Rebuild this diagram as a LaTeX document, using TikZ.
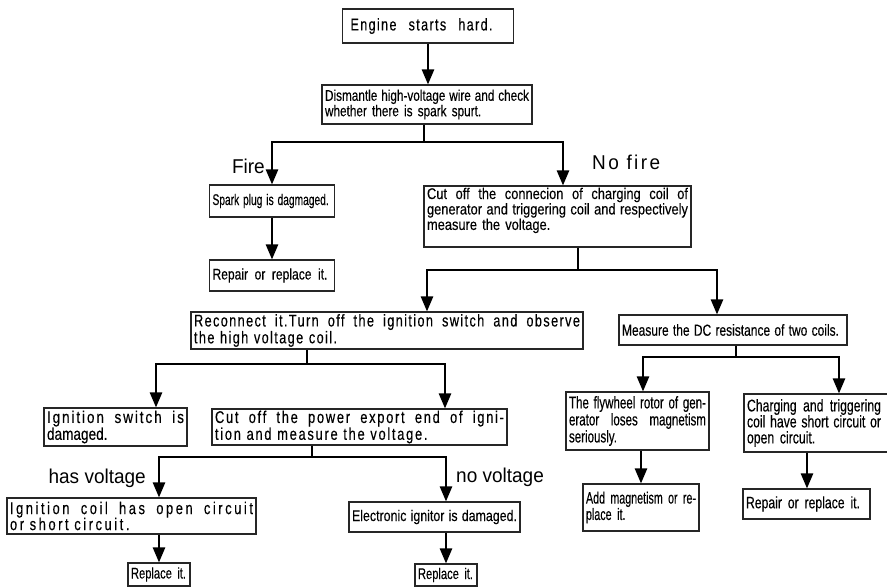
\documentclass[tikz,border=0pt]{standalone}
\usepackage{fontspec}
\setmainfont{Liberation Sans}
\usetikzlibrary{arrows.meta}
\newcommand\bxf[4]{\fontsize{#1pt}{#2pt}\selectfont\addfontfeatures{FakeStretch=#3,LetterSpace=#4,FakeBold=0.25}}
\newcommand\lbf[4]{\fontsize{#1pt}{#2pt}\selectfont\addfontfeatures{FakeStretch=#3,LetterSpace=#4}}
\newcommand\sline[2]{\makebox[#1][s]{\spaceskip=0.25em plus 1fill\xspaceskip=0.25em plus 1fill\relax #2}}
\newcommand\jline[1]{\sline{\linewidth}{#1}}
\begin{document}
\begin{tikzpicture}[x=1pt,y=-1pt,
  bx/.style={rectangle, draw=black!85, line width=1.1pt, inner xsep=3pt, inner ysep=1pt, align=left},
  ln/.style={line width=2.4pt},
  arr/.style={line width=2.4pt, -{Triangle[length=15pt,width=12pt]}},
  lbl/.style={inner sep=0pt, font=\lbf{20}{20}{0.95}{0}}]
\useasboundingbox (0,0) rectangle (887,587);

% boxes
\node[bx, text width=165pt, minimum height=34pt, font=\bxf{17}{17}{0.74}{8}] (eng) at (428,26)
  {\hspace*{5pt}\sline{142pt}{Engine starts hard.}};
\node[bx, text width=204pt, minimum height=39pt, font=\bxf{15.5}{13.5}{0.76}{0}] (dis) at (427,104.5)
  {\jline{Dismantle high-voltage wire and check}\\whether there is spark spurt.};
\node[bx, text width=119pt, minimum height=32pt, font=\bxf{15.5}{15.5}{0.66}{0}] (spark) at (272,201)
  {\sline{116pt}{Spark plug is dagmaged.}};
\node[bx, text width=119pt, minimum height=31pt, font=\bxf{15.5}{15.5}{0.78}{0}] (rep1) at (272,275.5)
  {\sline{115pt}{Repair or replace it.}};
\node[bx, text width=261pt, inner ysep=2pt, text height=11pt, text depth=46pt, font=\bxf{15.5}{13}{0.83}{0}] (cut) at (557.5,216.5)
  {\jline{Cut off the connecion of charging coil of}\\\jline{generator and triggering coil and respectively}\\measure the voltage.};
\node[bx, text width=386pt, minimum height=37pt, font=\bxf{17}{15}{0.75}{8}] (recon) at (387,330.5)
  {\jline{Reconnect it.Turn off the ignition switch and observe}\\the high voltage coil.};
\node[bx, text width=222pt, minimum height=30pt, font=\bxf{16}{16}{0.75}{0}] (meas) at (733,330)
  {\sline{217pt}{Measure the DC resistance of two coils.}};
\node[bx, text width=137pt, minimum height=38pt, font=\bxf{17}{15}{0.8}{0}] (isw) at (115.5,427)
  {\jline{\addfontfeatures{LetterSpace=11}Ignition switch is}\\damaged.};
\node[bx, text width=289pt, minimum height=36pt, font=\bxf{17}{15}{0.76}{10}] (cutp) at (359.5,427)
  {\jline{Cut off the power export end of igni-}\\tion and measure the voltage.};
\node[bx, text width=243pt, minimum height=36pt, font=\bxf{17}{16}{0.76}{15}] (icoil) at (131.5,516)
  {\jline{Ignition coil has open circuit}\\or short circuit.};
\node[bx, text width=165pt, minimum height=30pt, font=\bxf{15.5}{15.5}{0.8}{0}] (elec) at (434.5,517)
  {\sline{165pt}{Electronic ignitor is damaged.}};
\node[bx, text width=56pt, minimum height=23pt, font=\bxf{15.5}{15.5}{0.72}{0}] (rp1) at (159,574.5)
  {\sline{55pt}{Replace it.}};
\node[bx, text width=56pt, minimum height=22pt, font=\bxf{15.5}{15.5}{0.72}{0}] (rp2) at (446,575)
  {\sline{55pt}{Replace it.}};
\node[bx, text width=137pt, minimum height=58pt, font=\bxf{17}{17}{0.68}{0}] (fly) at (637.5,421)
  {\jline{The flywheel rotor of gen-}\\\jline{erator loses magnetism}\\seriously.};
\node[bx, text width=142pt, minimum height=58pt, font=\bxf{17}{16}{0.72}{0}] (chg) at (818,423)
  {\sline{134pt}{Charging and triggering}\\\sline{134pt}{coil have short circuit or}\\open circuit.};
\node[bx, text width=110pt, minimum height=47pt, font=\bxf{16.5}{15}{0.65}{0}] (add) at (641,507.5)
  {\jline{Add magnetism or re-}\\place it.};
\node[bx, text width=121pt, minimum height=30pt, font=\bxf{16.5}{16}{0.74}{0}] (rep2) at (806.5,504)
  {\sline{114pt}{Repair or replace it.}};

% labels
\node[lbl, anchor=base east] (fire) at (265,173) {Fire};
\node[lbl, anchor=base west, font=\lbf{20}{20}{0.95}{12}] (nofire) at (592,169) {No fire};
\node[lbl, anchor=base east] (hasv) at (146,483) {has voltage};
\node[lbl, anchor=base west] (nov) at (456,482) {no voltage};

% junctions and connector columns
\coordinate (j1) at (424,142);
\coordinate (xc1) at (563,0);
\coordinate (j2) at (578,270);
\coordinate (xr) at (427,0);
\coordinate (xm) at (717,0);
\coordinate (j3) at (307,364);
\coordinate (xi) at (156,0);
\coordinate (xp) at (445,0);
\coordinate (j4) at (312,457);
\coordinate (xa) at (159,0);
\coordinate (xe) at (446,0);
\coordinate (j5) at (736,357);
\coordinate (xf) at (643,0);
\coordinate (xg) at (839,0);
\coordinate (xh) at (807,0);

% connectors
\draw[arr] (eng.south) -- (eng.south |- dis.north);
\draw[ln] (dis.south -| j1) -- (j1);
\draw[arr] (j1) -| (spark.north);
\draw[arr] (j1) -| (xc1 |- cut.north);
\draw[arr] (spark.south) -- (rep1.north);
\draw[ln] (cut.south -| j2) -- (j2);
\draw[arr] (j2) -| (xr |- recon.north);
\draw[arr] (j2) -| (xm |- meas.north);
\draw[ln] (recon.south -| j3) -- (j3);
\draw[arr] (j3) -| (xi |- isw.north);
\draw[arr] (j3) -| (xp |- cutp.north);
\draw[ln] (cutp.south -| j4) -- (j4);
\draw[arr] (j4) -| (xa |- icoil.north);
\draw[arr] (j4) -| (xe |- elec.north);
\draw[arr] (icoil.south -| rp1) -- (rp1.north);
\draw[arr] (elec.south -| rp2) -- (rp2.north);
\draw[ln] (meas.south -| j5) -- (j5);
\draw[arr] (j5) -| (xf |- fly.north);
\draw[arr] (j5) -| (xg |- chg.north);
\draw[arr] (fly.south -| add) -- (add.north);
\draw[arr] (chg.south -| xh) -- (xh |- rep2.north);
\end{tikzpicture}
\end{document}
